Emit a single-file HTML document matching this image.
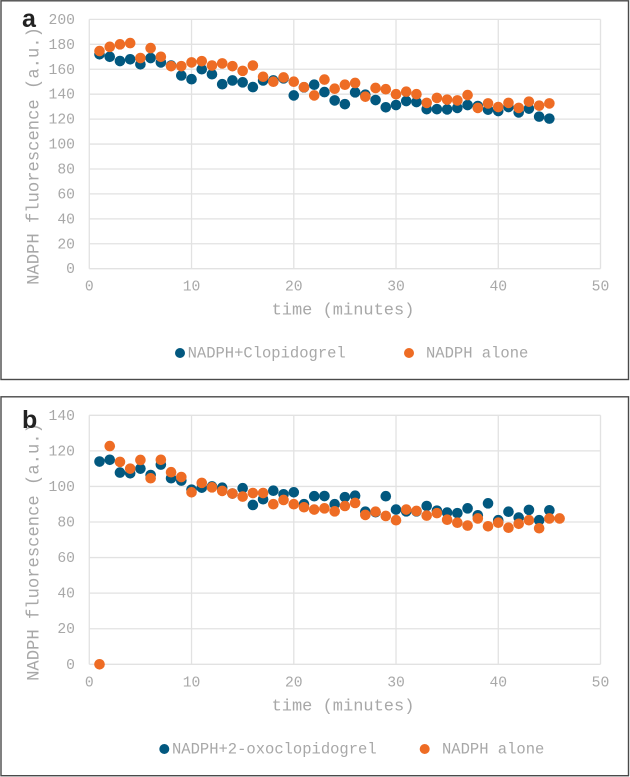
<!DOCTYPE html>
<html>
<head>
<meta charset="utf-8">
<title>NADPH fluorescence charts</title>
<style>
html,body{margin:0;padding:0;background:#fff;}
body{width:630px;height:777px;overflow:hidden;}
svg{display:block;filter:blur(0.3px);}
text{font-family:"Liberation Mono",monospace;fill:#a8a8a8;}
.letter{font-family:"Liberation Sans",sans-serif;font-weight:700;fill:#222;font-size:25px;}
</style>
</head>
<body>
<svg id="figure" width="630" height="777" viewBox="0 0 630 777" xmlns="http://www.w3.org/2000/svg">
  <rect x="1" y="0.8" width="627.5" height="378.7" fill="#fff" stroke="#4a4a4a" stroke-width="1.4"/>
  <rect x="1" y="396.8" width="627.5" height="378.9" fill="#fff" stroke="#4a4a4a" stroke-width="1.4"/>
  <g id="panel-a"></g>
  <g id="panel-b"></g>
  <text class="letter" x="22" y="27">a</text>
  <text class="letter" x="22" y="428">b</text>
</svg>
<script>
var xTicks = [0, 10, 20, 30, 40, 50];
var yTicksA = [0, 20, 40, 60, 80, 100, 120, 140, 160, 180, 200];
var yTicksB = [0, 20, 40, 60, 80, 100, 120, 140];

var minutesA = [1,2,3,4,5,6,7,8,9,10,11,12,13,14,15,16,17,18,19,20,21,22,23,24,25,26,27,28,29,30,31,32,33,34,35,36,37,38,39,40,41,42,43,44,45];
var clopidogrel = [172,170,166.6,168,164,169,165.5,163,155,152,160,156,148,151,149.5,145.7,151,151,152.7,139,145.5,147.6,141.7,135,132,141.5,139.6,135.3,129.5,131.3,134.5,133.7,128,128,127.8,129,131.3,130.5,127.6,126.5,129.7,125.4,128.4,122,120.4];
var aloneA = [174.6,178,180,181,169,177,170,162.5,162.5,165.5,166.5,163,164.7,162.5,158.7,163,154,150,153.4,150,145.6,139,151.7,144.4,147.6,149,138,145,144,140,142,140,133,137,135.6,135,139.3,129,132.6,129.7,133,129,134,130.8,132.6];

var minutesB = [1,2,3,4,5,6,7,8,9,10,11,12,13,14,15,16,17,18,19,20,21,22,23,24,25,26,27,28,29,30,31,32,33,34,35,36,37,38,39,40,41,42,43,44,45];
var oxoclopidogrel = [114,115,107.8,107.4,110,106.4,112.3,104.6,103.3,98.2,99.3,100,99.3,96,99,89.6,92.8,97.6,95.6,96.7,90,94.5,94.6,90,94,94.8,85.8,85.5,94.5,87,86,86,89,86.4,85.3,85,87.7,83.8,90.5,81,85.8,82.5,86.8,81,86.6];
var minutesAloneB = [1,2,3,4,5,6,7,8,9,10,11,12,13,14,15,16,17,18,19,20,21,22,23,24,25,26,27,28,29,30,31,32,33,34,35,36,37,38,39,40,41,42,43,44,45,46];
var aloneB = [0,122.7,113.8,110,114.9,104.6,115,108,105.3,96.7,102,99.5,97.5,96,94.3,96.3,96.3,90,92.4,90,88.3,87,87.7,86,89,90.7,84,85.8,83.4,81,87,86.2,83.6,85,81.3,79.6,78,82,77.6,79.6,76.8,79,81,76.5,82,82];

var SVGNS = 'http://www.w3.org/2000/svg';
var BLUE = '#02587f';
var ORANGE = '#ee6c24';
var GRID = '#e2e2e2';

function el(parent, tag, attrs, txt) {
  var n = document.createElementNS(SVGNS, tag);
  for (var k in attrs) n.setAttribute(k, attrs[k]);
  if (txt !== undefined) n.textContent = txt;
  parent.appendChild(n);
  return n;
}

function drawChart(cfg) {
  var g = document.getElementById(cfg.id);
  var xMin = 89.3, xMax = 600.5, xDomain = 50;
  function sx(v) { return xMin + v / xDomain * (xMax - xMin); }
  function sy(v) { return cfg.y0 + v / cfg.yMax * (cfg.yTop - cfg.y0); }

  cfg.yTicks.forEach(function (t) {
    var line = el(g, 'line', {x1: xMin, x2: xMax, y1: sy(t), y2: sy(t), stroke: GRID, 'stroke-width': 1.3});
    
    
    var lab = el(g, 'text', {x: 75, y: sy(t) + 4.5, 'text-anchor': 'end', 'font-size': 14.7}, String(t));
    
    
  });
  xTicks.forEach(function (t) {
    var line = el(g, 'line', {x1: sx(t), x2: sx(t), y1: cfg.yTop, y2: cfg.y0, stroke: GRID, 'stroke-width': 1.3});
    
    
    var lab = el(g, 'text', {x: sx(t), y: cfg.y0 + 22, 'text-anchor': 'middle', 'font-size': 14.7}, String(t));
    
    
  });

  var xTitle = el(g, 'text', {x: 343, y: cfg.y0 + 46, 'text-anchor': 'middle', 'font-size': 17}, 'time (minutes)');
  
  

  var yTitle = el(g, 'text', {x: 0, y: 0, 'text-anchor': 'middle', 'font-size': 17.2, transform: 'translate(38.5,' + cfg.titleY + ') rotate(-90)'}, 'NADPH fluorescence (a.u.)');
  
  

  cfg.xsBlue.forEach(function (x, i) {
    var c = el(g, 'circle', {cx: sx(x), cy: sy(cfg.blue[i]), r: 5.3, fill: BLUE});
    
    
  });
  cfg.xsOrange.forEach(function (x, i) {
    var c = el(g, 'circle', {cx: sx(x), cy: sy(cfg.orange[i]), r: 5.3, fill: ORANGE});
    
    
  });

  var m1 = el(g, 'circle', {cx: cfg.leg.m1, cy: cfg.legY, r: 5, fill: BLUE});
  
  
  var t1 = el(g, 'text', {x: cfg.leg.t1, y: cfg.legY + 4.5, 'font-size': 15.5}, cfg.leg.label);
  
  
  var m2 = el(g, 'circle', {cx: cfg.leg.m2, cy: cfg.legY, r: 5, fill: ORANGE});
  
  
  var t2 = el(g, 'text', {x: cfg.leg.t2, y: cfg.legY + 4.5, 'font-size': 15.5}, 'NADPH alone');
  
  
}

drawChart({
  id: 'panel-a', y0: 268.7, yTop: 19.4, yMax: 200, yTicks: yTicksA, titleY: 156, legY: 353,
  xsBlue: minutesA, blue: clopidogrel, xsOrange: minutesA, orange: aloneA,
  leg: {m1: 180, t1: 187.6, m2: 409, t2: 426, label: 'NADPH+Clopidogrel'}
});
drawChart({
  id: 'panel-b', y0: 664.3, yTop: 415.3, yMax: 140, yTicks: yTicksB, titleY: 552, legY: 749,
  xsBlue: minutesB, blue: oxoclopidogrel, xsOrange: minutesAloneB, orange: aloneB,
  leg: {m1: 164.3, t1: 172, m2: 424.7, t2: 442, label: 'NADPH+2-oxoclopidogrel'}
});
</script>
</body>
</html>
